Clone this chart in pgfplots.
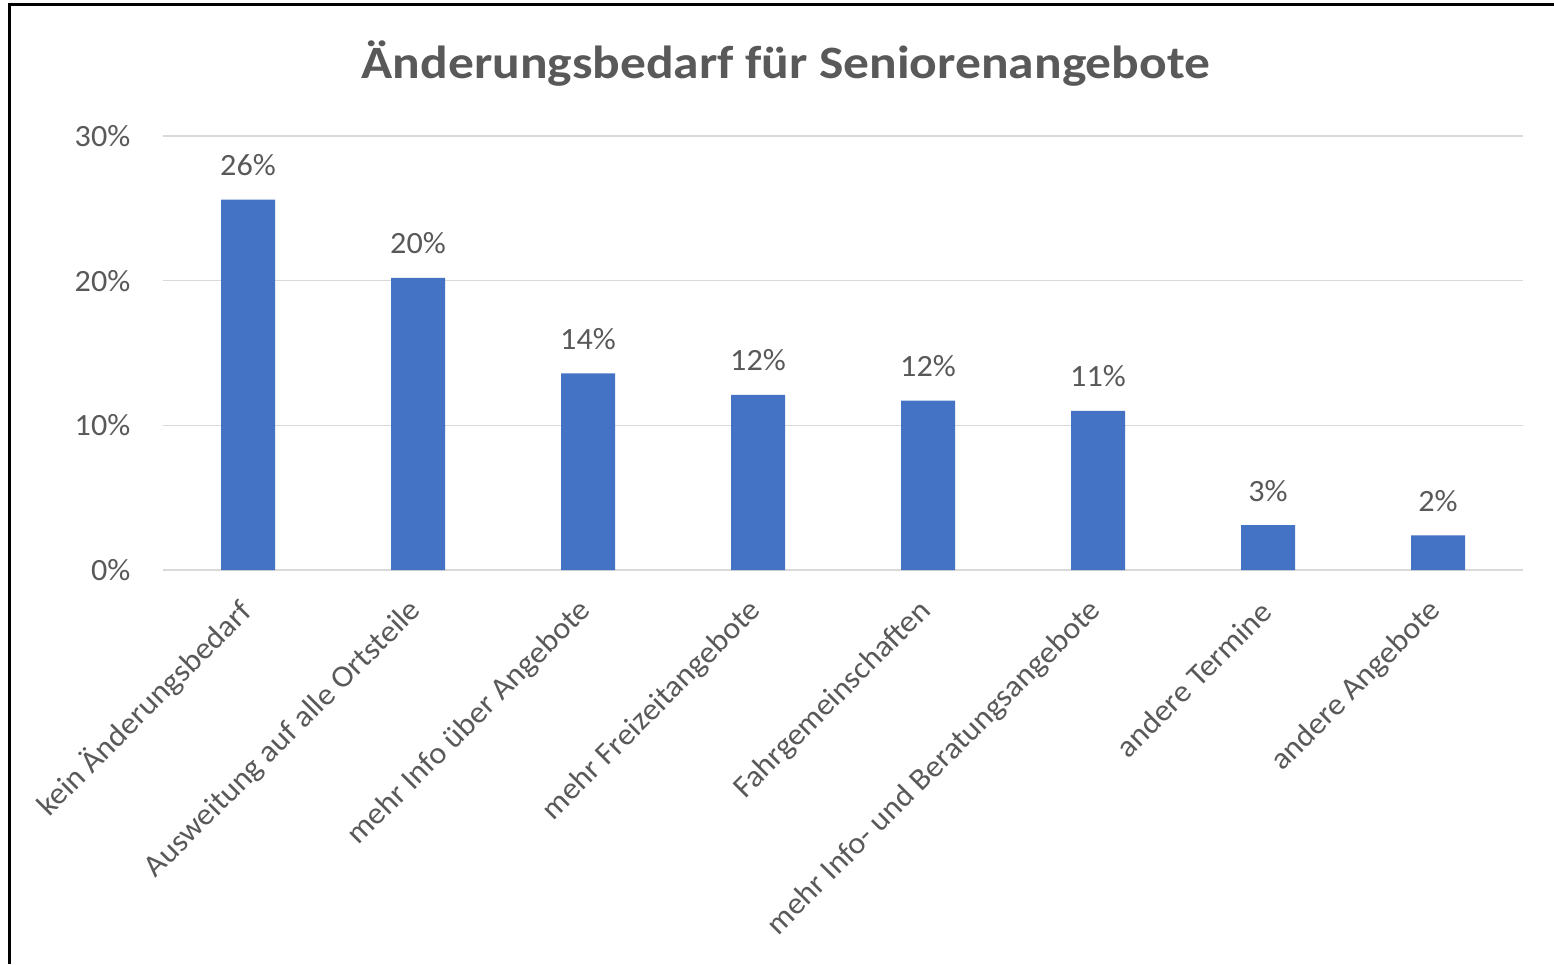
\documentclass[border=0pt]{standalone}
\usepackage{fontspec}
\setmainfont{Carlito}[FakeStretch=1.04]
\newfontfamily\titlefont{Carlito}[FakeStretch=1.11]
\usepackage{pgfplots}
\pgfplotsset{compat=1.18}
\definecolor{barblue}{HTML}{4472C4}
\definecolor{txtgray}{HTML}{595959}
\definecolor{gridgray}{HTML}{D9D9D9}
\begin{document}
\begin{tikzpicture}[x=1mm,y=1mm]
\path[use as bounding box] (0,0) rectangle (155.4,96.4);
\fill[white] (0,0) rectangle (155.4,96.4);
\draw[black, line width=0.3mm] (0.95,0) -- (0.95,95.95) -- (155.4,95.95);
\node[anchor=base, text=txtgray, font=\fontsize{13.2}{15}\titlefont\bfseries] at (78.6,88.5) {Änderungsbedarf für Seniorenangebote};
\begin{axis}[
  at={(16.3mm,39.4mm)}, anchor=south west,
  scale only axis, width=136mm, height=43.4mm,
  xmin=-0.5, xmax=7.5, ymin=0, ymax=30,
  clip=false,
  axis line style={draw=none},
  major tick length=0pt,
  ytick={0,10,20,30},
  yticklabels={0\%,10\%,20\%,30\%},
  ymajorgrids, grid style={gridgray, line width=0.15mm},
  xtick={0,...,7},
  xticklabels={kein Änderungsbedarf, Ausweitung auf alle Ortsteile, mehr Info über Angebote, mehr Freizeitangebote, Fahrgemeinschaften, mehr Info- und Beratungsangebote, andere Termine, andere Angebote},
  tick label style={font=\fontsize{8.8}{10}\selectfont, text=txtgray},
  yticklabel style={anchor=east, inner sep=0pt, xshift=-3.2mm},
  xticklabel style={inner sep=0pt, xshift=-0.1mm, yshift=-3.6mm, rotate=45, anchor=east},
]
\addplot[ybar, bar width=5.4mm, fill=barblue, draw=none,
  nodes near coords, point meta=explicit symbolic,
  every node near coord/.append style={anchor=base, yshift=2.4mm, inner sep=0pt, text=txtgray, font=\fontsize{8.8}{10}\selectfont}]
  coordinates {(0,25.6)[26\%] (1,20.2)[20\%] (2,13.6)[14\%] (3,12.1)[12\%] (4,11.7)[12\%] (5,11.0)[11\%] (6,3.1)[3\%] (7,2.4)[2\%]};
\end{axis}
\end{tikzpicture}
\end{document}
